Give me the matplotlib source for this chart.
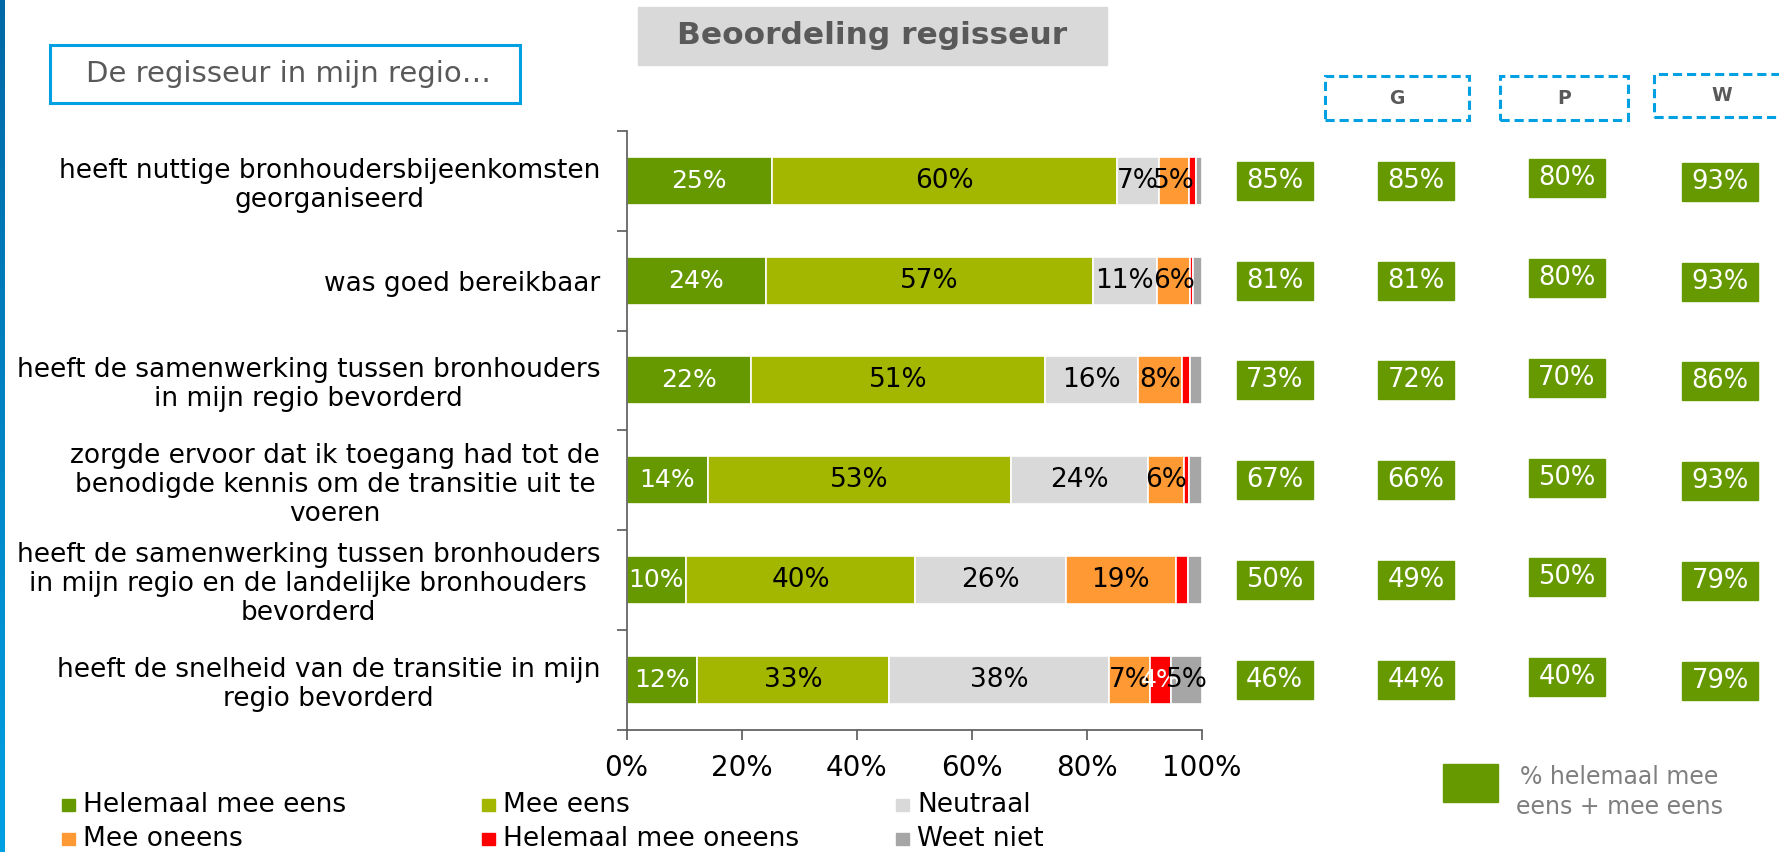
import numpy as np
import matplotlib
matplotlib.use("Agg")
import matplotlib.pyplot as plt
from matplotlib.patches import Rectangle
from matplotlib.colors import LinearSegmentedColormap
from matplotlib import transforms

# data
categories = [
    "heeft nuttige bronhoudersbijeenkomsten\ngeorganiseerd",
    "was goed bereikbaar",
    "heeft de samenwerking tussen bronhouders\nin mijn regio bevorderd",
    "zorgde ervoor dat ik toegang had tot de\nbenodigde kennis om de transitie uit te\nvoeren",
    "heeft de samenwerking tussen bronhouders\nin mijn regio en de landelijke bronhouders\nbevorderd",
    "heeft de snelheid van de transitie in mijn\nregio bevorderd",
]
series = ["Helemaal mee eens", "Mee eens", "Neutraal",
          "Mee oneens", "Helemaal mee oneens", "Weet niet"]
helemaal_eens = [25.2, 24.2, 21.7, 14.2, 10.3, 12.2]
mee_eens = [60.1, 56.8, 51.0, 52.6, 39.9, 33.4]
neutraal = [7.2, 11.2, 16.2, 23.9, 26.1, 38.2]
mee_oneens = [5.2, 5.8, 7.7, 6.2, 19.2, 7.2]
helemaal_oneens = [1.2, 0.5, 1.3, 0.9, 2.0, 3.7]
weet_niet = [1.1, 1.5, 2.1, 2.2, 2.5, 5.3]

totaal = [85, 81, 73, 67, 50, 46]
groep_g = [85, 81, 72, 66, 49, 44]
groep_p = [80, 80, 70, 50, 50, 40]
groep_w = [93, 93, 86, 93, 79, 79]
kolommen = ["G", "P", "W"]

colors = ["#669900", "#a3b600", "#d9d9d9", "#ff9933", "#ff0000", "#a6a6a6"]
text_colors = ["white", "black", "black", "black", "white", "black"]

W, H = 1779, 852
def fx(x):
    return x / W
def fy(y):
    return 1 - y / H

fig = plt.figure(figsize=(W / 100, H / 100), dpi=100)
plt.rcParams['font.family'] = ['DejaVu Sans']

# blue stripe on the left edge
sax = fig.add_axes([0, 0, fx(5), 1])
cmap = LinearSegmentedColormap.from_list("stripe", ["#0068a6", "#00a0e3"])
sax.imshow(np.linspace(0, 1, 256).reshape(-1, 1), cmap=cmap, aspect="auto")
sax.axis("off")

ax = fig.add_axes([fx(626.5), fy(729.5), fx(1202 - 626.5), (729.5 - 131) / H])

data = [helemaal_eens, mee_eens, neutraal, mee_oneens, helemaal_oneens, weet_niet]
y = np.arange(len(categories))
left = np.zeros(len(categories))
for vals, col, tcol, name in zip(data, colors, text_colors, series):
    vals = np.array(vals)
    ax.barh(y, vals, left=left, height=0.48, color=col, edgecolor="white",
            linewidth=1.2, label=name)
    for yi, l, v in zip(y, left, vals):
        if round(v) >= 4:
            ax.text(l + v / 2, yi, f"{round(v)}%", ha="center", va="center",
                    fontsize=18 if tcol == "white" else 19, color=tcol)
    left += vals

ax.set_xlim(0, 100)
ax.set_ylim(len(categories) - 0.5, -0.5)
ax.set_xticks(np.arange(0, 101, 20))
ax.set_xticklabels([f"{v}%" for v in range(0, 101, 20)], fontsize=20)
ax.set_yticks(np.arange(-0.5, len(categories), 1))
ax.set_yticklabels([])
ax.set_yticks(y, minor=True)
ax.set_yticklabels(categories, minor=True, fontsize=19)
for lbl in ax.get_yticklabels(minor=True):
    lbl.set_multialignment("center")
    lbl.set_linespacing(1.15)
ax.tick_params(axis="y", which="minor", length=0, pad=19)
ax.tick_params(axis="y", which="major", length=7, width=1.2, color="#595959")
ax.tick_params(axis="x", length=7, width=1.2, color="#595959", pad=11)
for s in ["top", "right"]:
    ax.spines[s].set_visible(False)
for s in ["left", "bottom"]:
    ax.spines[s].set_color("#595959")
    ax.spines[s].set_linewidth(1.2)

# green boxes with the share of (helemaal) mee eens
bt = transforms.blended_transform_factory(fig.transFigure, ax.transData)
box_cols = [(1274.7, totaal, 0), (1416, groep_g, 0), (1567, groep_p, -2.5), (1720, groep_w, 1)]
bw, bh = 76, 38 / 99.75
for cx, vals, off in box_cols:
    for yi, v in zip(y, vals):
        yc = yi + off / 99.75
        ax.add_patch(Rectangle((fx(cx - bw / 2), yc - bh / 2), bw / W, bh,
                               transform=bt, color="#669900", clip_on=False))
        ax.text(fx(cx), yc, f"{v}%", transform=bt, ha="center", va="center",
                fontsize=18.5, color="white", clip_on=False)

# dashed header boxes
heads = [(1325, 76, 1469, 120), (1500, 76, 1628, 120), (1654, 74, 1790, 117)]
for (x0, y0, x1, y1), k in zip(heads, kolommen):
    fig.add_artist(Rectangle((fx(x0), fy(y1)), (x1 - x0) / W, (y1 - y0) / H,
                             transform=fig.transFigure, fill=False,
                             edgecolor="#00a0e3", linewidth=2.2,
                             linestyle=(0, (3, 1.6))))
    fig.text(fx((x0 + x1) / 2), fy((y0 + y1) / 2), k, ha="center", va="center",
             fontsize=13.5, fontweight="bold", color="#595959")

# title
fig.add_artist(Rectangle((fx(637.6), fy(64.7)), (1107.4 - 637.6) / W, (64.7 - 6.8) / H,
                         transform=fig.transFigure, color="#d9d9d9"))
fig.text(fx(872.5), fy(36), "Beoordeling regisseur", ha="center", va="center",
         fontsize=22.5, fontweight="bold", color="#595959")

# subtitle box
fig.add_artist(Rectangle((fx(50), fy(103.2)), (519.6 - 50) / W, (103.2 - 45.4) / H,
                         transform=fig.transFigure, facecolor="white",
                         edgecolor="#00a0e3", linewidth=2.2))
fig.text(fx(288), fy(74.5), "De regisseur in mijn regio…", ha="center", va="center",
         fontsize=21, color="#595959")

# legend
leg_x = [62, 482, 896]
leg_y = [805, 839]
for i, (name, col) in enumerate(zip(series, colors)):
    lx = leg_x[i % 3]
    ly = leg_y[i // 3]
    fig.add_artist(Rectangle((fx(lx), fy(ly + 6)), 13 / W, 12 / H,
                             transform=fig.transFigure, color=col))
    fig.text(fx(lx + 21), fy(ly), name, ha="left", va="center", fontsize=19)

fig.add_artist(Rectangle((fx(1443), fy(802)), 55 / W, 38 / H,
                         transform=fig.transFigure, color="#669900"))
fig.text(fx(1619), fy(792), "% helemaal mee\neens + mee eens", ha="center",
         va="center", fontsize=17, color="#7f7f7f", linespacing=1.3)

fig.savefig("out.png", dpi=100)
